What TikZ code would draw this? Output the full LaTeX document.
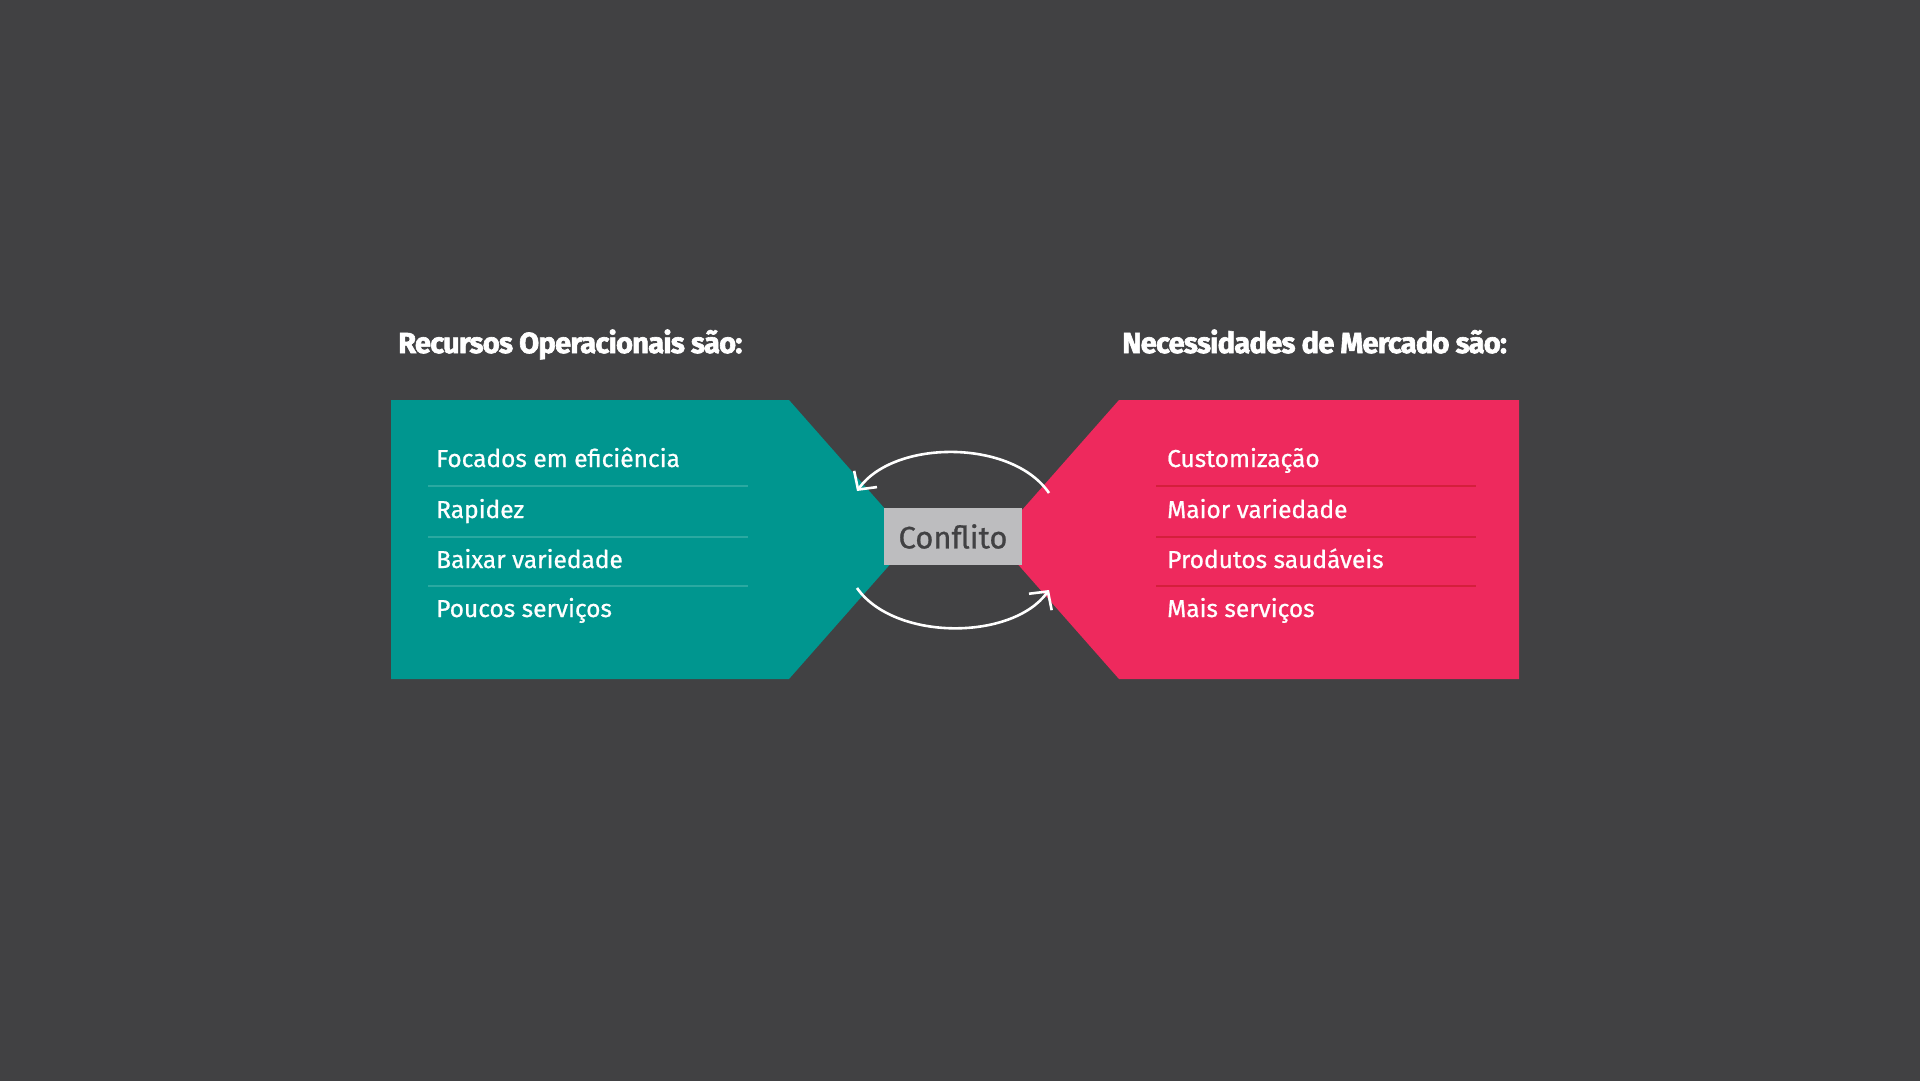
\documentclass[tikz,border=0pt]{standalone}
\usepackage{fontspec}
\setmainfont{Fira Sans}
\newfontfamily\itemfont[FakeBold=0.8]{Fira Sans}
\newfontfamily\titlefont[FakeBold=2.2,LetterSpace=-2.5]{Fira Sans Bold}
\usetikzlibrary{arrows.meta}
\definecolor{bg}{HTML}{414143}
\definecolor{teal}{HTML}{00968F}
\definecolor{tealline}{HTML}{2AA9A1}
\definecolor{pinkc}{HTML}{EE295D}
\definecolor{pinkline}{HTML}{D41F3C}
\definecolor{boxgray}{HTML}{BDBDBF}
\definecolor{boxtext}{HTML}{414143}
\tikzset{
  item/.style={anchor=base west, text=white, inner sep=0pt, font=\itemfont\fontsize{24.5}{28}\selectfont},
  title/.style={anchor=base west, text=white, inner sep=0pt, font=\titlefont\fontsize{29}{33}\selectfont},
  sep/.style={line width=1.6pt},
  conn/.style={white, line width=2.6pt, -{Straight Barb[length=13pt,width=28pt,line width=2.6pt]}},
}
\begin{document}
\begin{tikzpicture}[x=1pt,y=-1pt]
\useasboundingbox (0,0) rectangle (1920,1081);
\fill[bg] (0,0) rectangle (1920,1081);
% shapes
\fill[teal] (391,400) -- (789,400) -- (912,539.5) -- (789,679) -- (391,679) -- cycle;
\fill[pinkc] (1519,400) -- (1119,400) -- (996,539.5) -- (1119,679) -- (1519,679) -- cycle;
% separators
\foreach \yy in {486,537,586} {
  \draw[sep,tealline] (428,\yy) -- (748,\yy);
  \draw[sep,pinkline] (1156,\yy) -- (1476,\yy);
}
% titles
\node[title] (tl) at (398,353) {Recursos Operacionais são:};
\node[title] (tr) at (1122,353) {Necessidades de Mercado são:};
% items
\node[item] (l1) at (436,467) {Focados em eficiência};
\node[item] (l2) at (436,518) {Rapidez};
\node[item] (l3) at (436,568) {Baixar variedade};
\node[item] (l4) at (436,617) {Poucos serviços};
\node[item] (r1) at (1167,467) {Customização};
\node[item] (r2) at (1167,518) {Maior variedade};
\node[item] (r3) at (1167,568) {Produtos saudáveis};
\node[item] (r4) at (1167,617) {Mais serviços};
% conflict box
\node[fill=boxgray, text=boxtext, minimum width=138pt, minimum height=57pt, inner sep=0pt,
      font=\itemfont\fontsize{31}{34}\selectfont] (conf) at (953,536.5) {Conflito};
% arcs
\coordinate (a1) at (1049,493);
\coordinate (a2) at (857,491);
\coordinate (b1) at (857,588);
\coordinate (b2) at (1049,590);
\draw[conn] (a1) .. controls (1012,439) and (894,439) .. (a2);
\draw[conn] (b1) .. controls (894,641) and (1012,641) .. (b2);
\end{tikzpicture}
\end{document}
